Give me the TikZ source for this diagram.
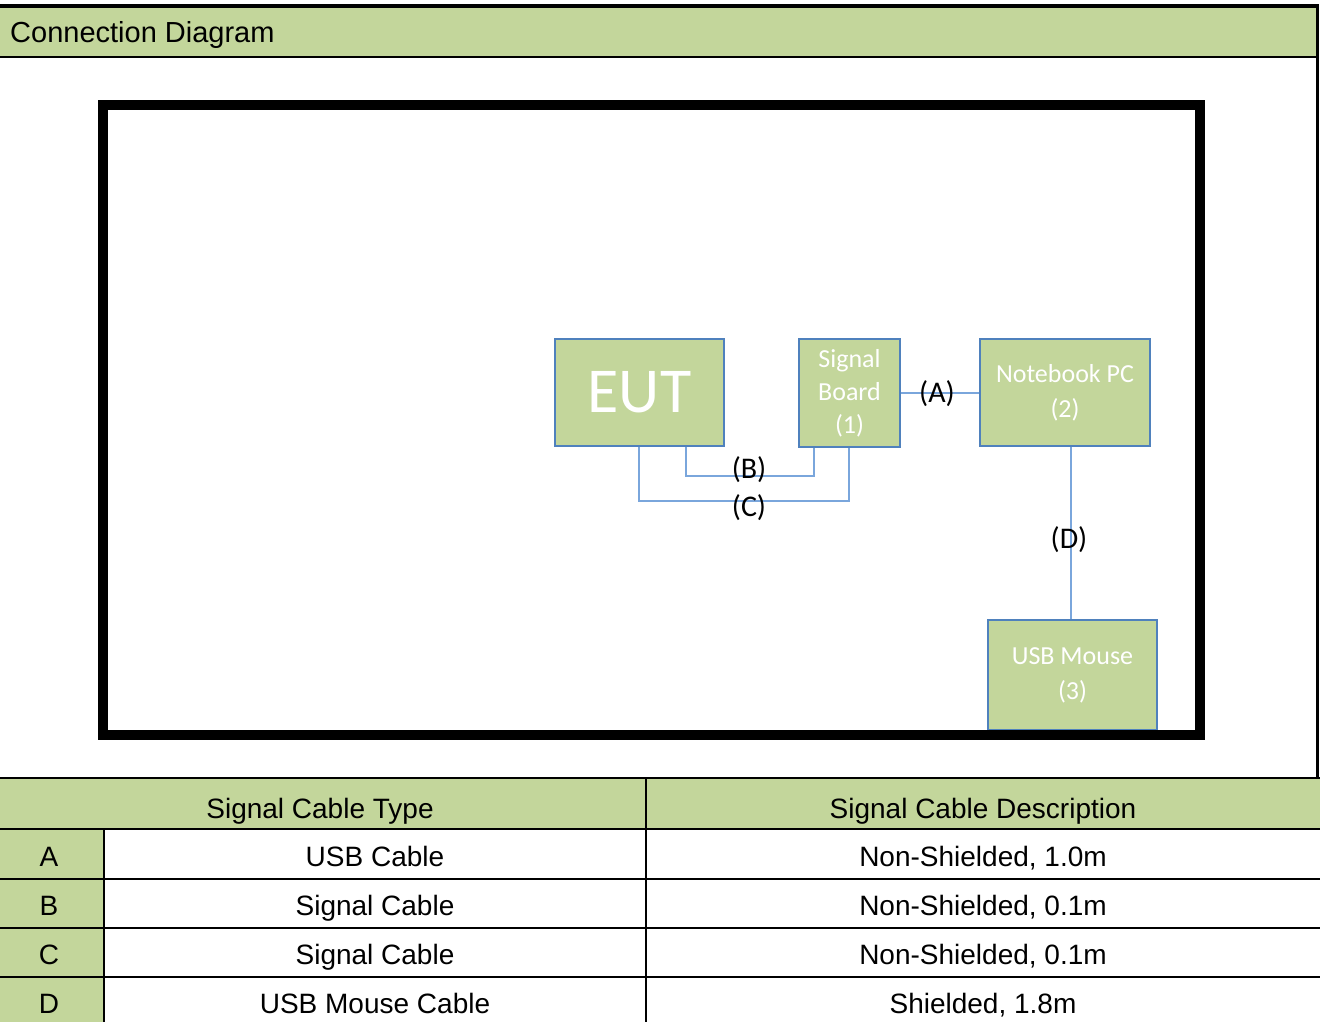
\documentclass[tikz,border=0pt]{standalone}
\usepackage{fontspec}
\setmainfont{Liberation Sans}
\newfontfamily\calfont{Carlito}
\definecolor{hdrgreen}{HTML}{C3D69B}
\definecolor{boxedge}{HTML}{4F81BD}
\definecolor{cable}{HTML}{7AA6DC}
\begin{document}
\begin{tikzpicture}[x=1pt,y=-1pt,
  devbox/.style={draw=boxedge,line width=1.2pt,fill=hdrgreen,text=white,align=center,inner sep=0pt,font=\calfont\fontsize{26}{33}\selectfont},
  cablelbl/.style={font=\calfont\fontsize{30}{32}\selectfont,text=black,inner sep=1pt},
  wire/.style={draw=cable,line width=1.6pt},
  tbltext/.style={font=\fontsize{28}{32}\selectfont,inner sep=0pt,anchor=base},
  grid/.style={line width=2pt,draw=black}]
\useasboundingbox (0,0) rectangle (1320,1022);
\fill[white] (0,0) rectangle (1320,1022);
% header band
\fill[hdrgreen] (0,7) rectangle (1317,56);
\draw[line width=4pt] (0,6) -- (1319,6);
\draw[grid] (0,57) -- (1317,57);
\draw[line width=3pt] (1317.5,5) -- (1317.5,779);
\node[tbltext,anchor=base west,font=\fontsize{29}{32}\selectfont] (title) at (10,43) {Connection Diagram};
% devices
\node[devbox,minimum width=169,minimum height=107,font=\calfont\fontsize{64}{70}\selectfont] (eut) at (639.5,392.5) {EUT};
\node[devbox,minimum width=101,minimum height=108] (sb) at (849.5,393) {Signal\\Board\\(1)};
\node[devbox,minimum width=170,minimum height=107,font=\calfont\fontsize{26}{35}\selectfont] (nb) at (1065,392.5) {Notebook PC\\(2)};
\node[devbox,minimum width=169,minimum height=110,font=\calfont\fontsize{26}{35}\selectfont] (mouse) at (1072.5,675) {USB Mouse\\(3)};
% cables
\coordinate (b1) at (686,476);
\coordinate (b2) at (814,476);
\coordinate (c1) at (639,501);
\coordinate (c2) at (849,501);
\coordinate (dx) at (1071,0);
\draw[wire] (sb.east) -- (nb.west |- sb.east);
\draw[wire] (eut.south -| b1) -- (b1) -- (b2) -- (sb.south -| b2);
\draw[wire] (eut.south -| c1) -- (c1) -- (c2) -- (sb.south -| c2);
\draw[wire] (nb.south -| dx) -- (mouse.north -| dx);
\node[cablelbl] (la) at (937,394) {(A)};
\node[cablelbl] (lb) at (749,470) {(B)};
\node[cablelbl] (lc) at (749,508) {(C)};
\node[cablelbl] (ld) at (1069,540) {(D)};
% thick room frame
\draw[line width=10pt] (103,105) rectangle (1200,735);
% table
\fill[hdrgreen] (0,779) rectangle (1320,828);
\fill[hdrgreen] (0,829) rectangle (104,1022);
\draw[grid] (0,778) -- (1320,778);
\foreach \yy in {829,879,928,977} \draw[grid] (0,\yy) -- (1320,\yy);
\draw[grid] (646,778) -- (646,1022);
\draw[grid] (104,829) -- (104,1022);
\node[tbltext] (h1) at (320,818) {Signal Cable Type};
\node[tbltext] (h2) at (983,818) {Signal Cable Description};
\node[tbltext] (ka) at (49,866) {A};
\node[tbltext] (kb) at (49,915) {B};
\node[tbltext] (kc) at (49,964) {C};
\node[tbltext] (kd) at (49,1013) {D};
\node[tbltext] (ta) at (375,866) {USB Cable};
\node[tbltext] (tb) at (375,915) {Signal Cable};
\node[tbltext] (tc) at (375,964) {Signal Cable};
\node[tbltext] (td) at (375,1013) {USB Mouse Cable};
\node[tbltext] (da) at (983,866) {Non-Shielded, 1.0m};
\node[tbltext] (db) at (983,915) {Non-Shielded, 0.1m};
\node[tbltext] (dc) at (983,964) {Non-Shielded, 0.1m};
\node[tbltext] (dd) at (983,1013) {Shielded, 1.8m};
\end{tikzpicture}
\end{document}
